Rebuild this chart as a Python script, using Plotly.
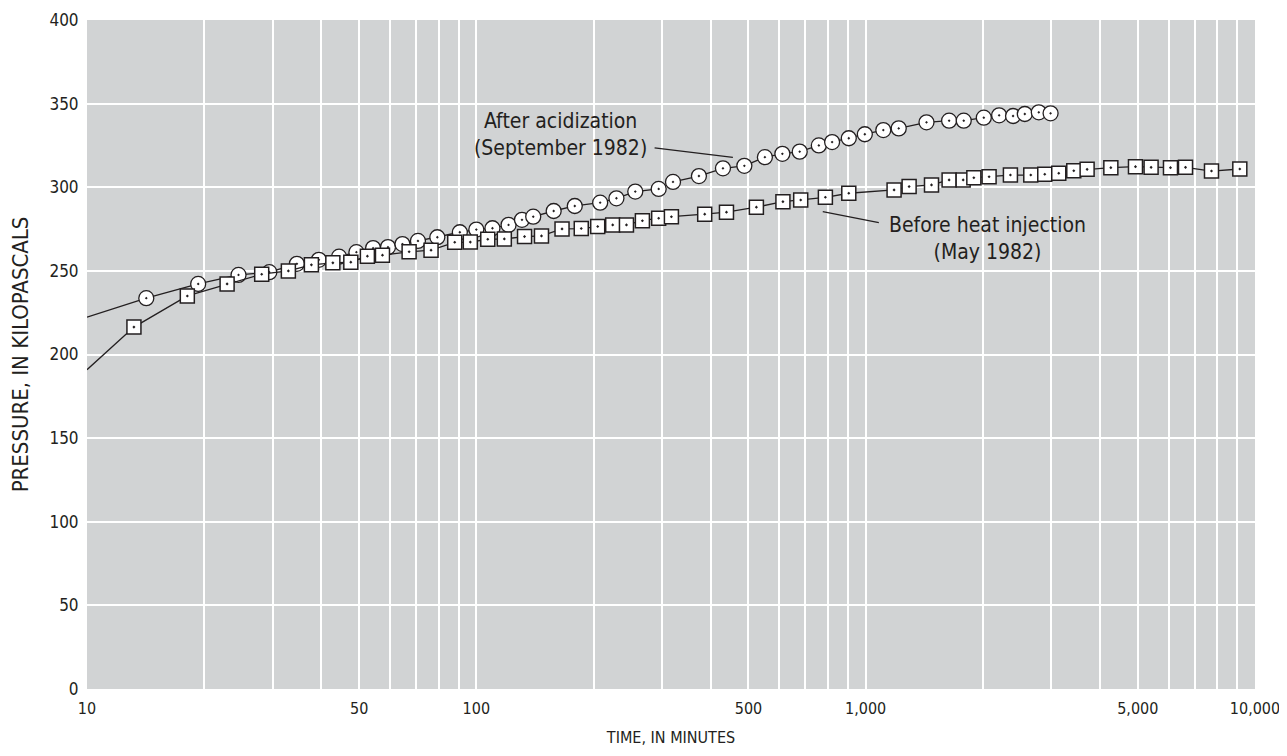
import plotly.graph_objects as go

# ---- data ----
circle_time = [14.2, 19.3, 24.5, 29.4, 34.6, 39.4, 44.4, 49.2, 54.3, 59.3,
               64.6, 70.8, 79.4, 90.7, 100, 110, 121, 131, 140, 158,
               179, 208, 229, 256, 294, 320, 373, 430, 488, 551,
               611, 677, 758, 820, 905, 995, 1110, 1216, 1433, 1638,
               1786, 2011, 2202, 2391, 2563, 2784, 2985]
circle_kpa = [233.7, 242.2, 247.6, 249.2, 254.2, 256.6, 258.5, 261.2, 263.6, 264.2,
              266.0, 267.9, 270.1, 273.1, 274.7, 275.5, 277.5, 280.5, 282.4, 285.8,
              288.8, 290.8, 293.4, 297.4, 299.0, 303.2, 306.7, 311.3, 312.8, 318.0,
              320.0, 321.3, 325.0, 327.0, 329.3, 331.7, 334.2, 335.2, 338.8, 339.8,
              339.8, 341.6, 343.0, 342.6, 343.8, 344.8, 344.2]

square_time = [13.2, 18.1, 22.9, 28.1, 32.9, 37.7, 42.8, 47.6, 52.5, 57.4,
               67.2, 76.5, 88, 96.5, 107, 118, 133, 147, 166, 186,
               205, 224, 243, 267, 294, 317, 386, 439, 524, 613,
               681, 788, 905, 1183, 1293, 1476, 1638, 1780, 1896, 2075,
               2354, 2655, 2884, 3133, 3424, 3705, 4263, 4932, 5409, 6066,
               6630, 7731, 9141]
square_kpa = [216.4, 235.0, 242.2, 248.0, 250.0, 253.6, 254.8, 255.2, 258.8, 259.4,
              261.4, 262.4, 267.1, 267.2, 268.9, 269.1, 270.5, 270.9, 275.1, 275.3,
              276.5, 277.5, 277.5, 280.0, 281.5, 282.4, 283.9, 285.1, 288.1, 291.4,
              292.4, 294.0, 296.4, 298.4, 300.4, 301.4, 304.4, 304.4, 305.7, 306.3,
              307.3, 307.3, 307.8, 308.4, 309.9, 310.7, 311.7, 312.3, 311.9, 311.7,
              311.9, 309.7, 310.9]

# fitted lines continue to the left edge of the graph
edge_time = 10
circle_edge_kpa = 222.3
square_edge_kpa = 190.9

x_labels = {10: "10", 50: "50", 100: "100", 500: "500", 1000: "1,000",
            5000: "5,000", 10000: "10,000"}
x_grid = [m * 10 ** e for e in (1, 2, 3) for m in range(1, 10)] + [10000]
y_ticks = [0, 50, 100, 150, 200, 250, 300, 350, 400]

INK = "#231f20"
FONT = "Liberation Sans Narrow, DejaVu Sans Condensed, Arial Narrow, sans-serif"

fig = go.Figure()

# After acidization (circles)
fig.add_trace(go.Scatter(
    x=[edge_time] + circle_time, y=[circle_edge_kpa] + circle_kpa,
    mode="lines", line=dict(color=INK, width=1.3), hoverinfo="skip", showlegend=False))
fig.add_trace(go.Scatter(
    x=circle_time, y=circle_kpa, mode="markers", showlegend=False,
    marker=dict(symbol="circle-dot", size=15, color="white",
                line=dict(color=INK, width=1.3))))

# Before heat injection (squares)
fig.add_trace(go.Scatter(
    x=[edge_time] + square_time, y=[square_edge_kpa] + square_kpa,
    mode="lines", line=dict(color=INK, width=1.3), hoverinfo="skip", showlegend=False))
fig.add_trace(go.Scatter(
    x=square_time, y=square_kpa, mode="markers", showlegend=False,
    marker=dict(symbol="square-dot", size=14, color="white",
                line=dict(color=INK, width=1.5))))

# annotations with leader lines (annotation x on a log axis is log10)
fig.add_annotation(x=2.217, y=331.8, xref="x", yref="y",
                   text="After acidization<br>(September 1982)",
                   showarrow=False, font=dict(family=FONT, size=21, color=INK), align="center")
fig.add_shape(type="line", x0=287, y0=323.5, x1=456, y1=317.9, xref="x", yref="y",
              line=dict(color=INK, width=1.2))
fig.add_annotation(x=3.3137, y=269.1, xref="x", yref="y",
                   text="Before heat injection<br>(May 1982)",
                   showarrow=False, font=dict(family=FONT, size=21, color=INK), align="center")
fig.add_shape(type="line", x0=776, y0=285.4, x1=1081, y1=278.9, xref="x", yref="y",
              line=dict(color=INK, width=1.2))

# page body adds an 8 px offset; size the figure to fill the rest of the window
fig.update_layout(
    width=1279, height=748,
    margin=dict(l=79, r=32, t=12, b=67),
    paper_bgcolor="white", plot_bgcolor="#d1d3d4",
    font=dict(family=FONT, size=16, color=INK),
    xaxis=dict(type="log", range=[1, 4], automargin=False,
               tickvals=x_grid, ticktext=[x_labels.get(v, "") for v in x_grid],
               showgrid=True, gridcolor="white", gridwidth=1.5,
               zeroline=False, showline=False,
               ticks="outside", ticklen=5, tickcolor="rgba(0,0,0,0)",
               tickfont=dict(size=16),
               title=dict(text="TIME, IN MINUTES", font=dict(size=16), standoff=14)),
    yaxis=dict(range=[0, 400], tickvals=y_ticks, automargin=False,
               showgrid=True, gridcolor="white", gridwidth=1.5,
               zeroline=False, showline=False,
               ticks="outside", ticklen=4, tickcolor="rgba(0,0,0,0)",
               tickfont=dict(size=17),
               title=dict(text="PRESSURE, IN KILOPASCALS", font=dict(size=22), standoff=16)),
)

fig.write_html("out.html")
